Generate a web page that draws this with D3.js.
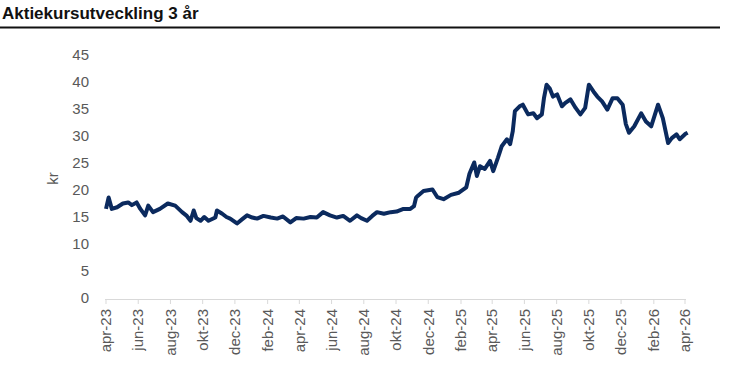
<!DOCTYPE html>
<html>
<head>
<meta charset="utf-8">
<script src="https://cdn.jsdelivr.net/npm/d3@7"></script>
<style>
  body { margin: 0; background: #fff; }
  text { font-family: "Liberation Sans", Arial, sans-serif; }
</style>
</head>
<body>
<div id="wrapper"></div>
<script>
// Data
const dates = [
  "2023-04-01","2023-04-06","2023-04-12","2023-04-22","2023-05-03","2023-05-13","2023-05-20","2023-05-29",
  "2023-06-05","2023-06-14","2023-06-20","2023-06-29","2023-07-12","2023-07-27","2023-08-10","2023-08-23",
  "2023-09-01","2023-09-08","2023-09-14","2023-09-19","2023-09-27","2023-10-04","2023-10-12","2023-10-25",
  "2023-10-28","2023-11-07","2023-11-15","2023-11-22","2023-12-05","2023-12-15","2023-12-24","2024-01-03",
  "2024-01-12","2024-01-24","2024-02-07","2024-02-19","2024-03-01","2024-03-15","2024-03-26","2024-04-09",
  "2024-04-22","2024-05-04","2024-05-16","2024-05-29","2024-06-11","2024-06-23","2024-07-06","2024-07-19",
  "2024-07-27","2024-08-07","2024-08-17","2024-08-26","2024-09-08","2024-09-21","2024-10-02","2024-10-15",
  "2024-10-28","2024-11-04","2024-11-08","2024-11-11","2024-11-22","2024-12-09","2024-12-18","2024-12-30",
  "2025-01-13","2025-01-28","2025-02-11","2025-02-17","2025-02-26","2025-03-03","2025-03-09","2025-03-18",
  "2025-03-28","2025-04-03","2025-04-12","2025-04-19","2025-04-29","2025-05-05","2025-05-10","2025-05-14",
  "2025-05-23","2025-05-29","2025-06-08","2025-06-18","2025-06-25","2025-07-04","2025-07-08","2025-07-13",
  "2025-07-19","2025-07-25","2025-08-02","2025-08-11","2025-08-17","2025-08-27","2025-09-06","2025-09-15",
  "2025-09-24","2025-10-01","2025-10-10","2025-10-17","2025-10-26","2025-11-05","2025-11-15","2025-11-24",
  "2025-12-04","2025-12-10","2025-12-16","2025-12-26","2026-01-08","2026-01-17","2026-01-27","2026-02-09",
  "2026-02-18","2026-02-28","2026-03-07","2026-03-16","2026-03-22","2026-04-02","2026-04-06"
];
const prices = [
  16.5, 18.6, 16.5, 16.8, 17.5, 17.7, 17.2, 17.7,
  16.5, 15.3, 17.1, 15.9, 16.5, 17.5, 17.1, 15.9,
  15.2, 14.3, 16.2, 14.8, 14.3, 15.0, 14.3, 14.9,
  16.2, 15.6, 15.0, 14.7, 13.8, 14.6, 15.3, 14.9,
  14.7, 15.2, 14.9, 14.7, 15.1, 14.0, 14.8, 14.7,
  15.0, 14.9, 15.9, 15.3, 14.9, 15.2, 14.3, 15.3,
  14.8, 14.3, 15.2, 15.9, 15.6, 15.9, 16.0, 16.5,
  16.5, 17.0, 18.6, 18.9, 19.8, 20.1, 18.7, 18.3,
  19.1, 19.5, 20.5, 23.0, 25.1, 22.6, 24.4, 23.9,
  25.4, 23.5, 26.0, 28.1, 29.4, 28.5, 30.9, 34.6,
  35.5, 35.8, 34.0, 34.2, 33.3, 34.0, 37.0, 39.5,
  38.8, 37.3, 37.7, 35.5, 36.1, 36.8, 35.2, 34.0,
  35.2, 39.5, 38.2, 37.3, 36.4, 34.9, 37.0, 37.0,
  35.8, 32.2, 30.6, 31.8, 34.2, 32.7, 31.8, 35.8,
  33.3, 28.7, 29.6, 30.3, 29.4, 30.4, 30.6
];
const yTicks = [0, 5, 10, 15, 20, 25, 30, 35, 40, 45];
const monthNames = ["jan","feb","mar","apr","maj","jun","jul","aug","sep","okt","nov","dec"];
const titleText = "Aktiekursutveckling 3 år";
const yLabel = "kr";

const parseDate = d3.timeParse("%Y-%m-%d");
const series = dates.map((d, i) => ({ date: parseDate(d), value: prices[i] }));

// Dimensions
const width = 732;
const height = 377;
const plot = { left: 106, right: 685, top: 55, bottom: 298 };

const svg = d3.select("#wrapper")
  .append("svg")
    .attr("width", width)
    .attr("height", height);

// Title and rule
svg.append("text")
    .attr("x", 2)
    .attr("y", 19)
    .attr("font-size", 17)
    .attr("font-weight", "bold")
    .attr("fill", "#111")
    .text(titleText);
svg.append("line")
    .attr("x1", 0).attr("x2", 720)
    .attr("y1", 27.5).attr("y2", 27.5)
    .attr("stroke", "#111")
    .attr("stroke-width", 2);

// Scales
const startDate = new Date(2023, 3, 1);
const endDate = new Date(2026, 3, 1);
const xScale = d3.scaleTime()
  .domain([startDate, endDate])
  .range([plot.left, plot.right]);
const yScale = d3.scaleLinear()
  .domain([0, 45])
  .range([plot.bottom, plot.top]);

// Y labels
svg.append("g")
  .selectAll("text")
  .data(yTicks)
  .join("text")
    .attr("x", 89)
    .attr("y", d => yScale(d))
    .attr("dy", "0.35em")
    .attr("text-anchor", "end")
    .attr("font-size", 15)
    .attr("fill", "#595959")
    .text(d => d);

svg.append("text")
    .attr("transform", `translate(58, ${yScale(22.5) + 2}) rotate(-90)`)
    .attr("text-anchor", "middle")
    .attr("font-size", 15)
    .attr("fill", "#595959")
    .text(yLabel);

// X axis: every second month starting at apr-23
const xTicks = d3.timeMonth.range(startDate, d3.timeDay.offset(endDate, 1), 2);
const xAxis = svg.append("g");
xAxis.append("line")
    .attr("x1", plot.left - 1).attr("x2", plot.right + 1)
    .attr("y1", plot.bottom + 1.5).attr("y2", plot.bottom + 1.5)
    .attr("stroke", "#d9d9d9")
    .attr("stroke-width", 1);
xAxis.selectAll(".tick")
  .data(xTicks)
  .join("line")
    .attr("class", "tick")
    .attr("x1", d => xScale(d)).attr("x2", d => xScale(d))
    .attr("y1", plot.bottom + 1.5).attr("y2", plot.bottom + 6)
    .attr("stroke", "#d9d9d9");
xAxis.selectAll(".x-label")
  .data(xTicks)
  .join("text")
    .attr("class", "x-label")
    .attr("transform", d => `translate(${xScale(d)}, ${plot.bottom + 11}) rotate(-90)`)
    .attr("dy", "0.35em")
    .attr("text-anchor", "end")
    .attr("font-size", 15)
    .attr("fill", "#595959")
    .text(d => `${monthNames[d.getMonth()]}-${String(d.getFullYear()).slice(2)}`);

// Line
const lineGenerator = d3.line()
  .x(d => xScale(d.date))
  .y(d => yScale(d.value));

svg.append("path")
    .datum(series)
    .attr("d", lineGenerator)
    .attr("fill", "none")
    .attr("stroke", "#0b2a5e")
    .attr("stroke-width", 4)
    .attr("stroke-linejoin", "round");
</script>
</body>
</html>
